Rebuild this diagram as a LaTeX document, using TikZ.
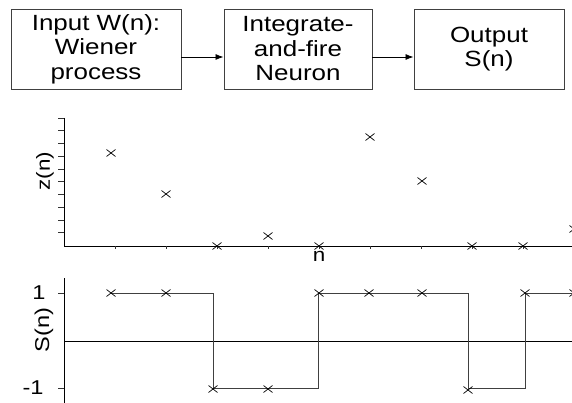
\documentclass[tikz,border=0pt]{standalone}
\usepackage{fontspec}
\setmainfont{Liberation Sans}
\newfontfamily\wfont[FakeStretch=1.18]{Liberation Sans}
\usetikzlibrary{arrows.meta}
\begin{document}
\begin{tikzpicture}[x=1pt,y=-1pt,
  blk/.style={draw=black!75, line width=0.9pt, minimum height=80pt, align=center,
    inner sep=0pt, font=\wfont\fontsize{22}{24.5}\selectfont},
  flow/.style={-{Latex[length=8pt,width=6pt]}, line width=0.8pt},
  axisline/.style={line width=0.9pt, black},
  tickline/.style={line width=0.7pt, black!80},
  mk/.style={line width=0.7pt, black},
  stepline/.style={line width=0.9pt, black!75},
  lbl/.style={inner sep=0pt, font=\wfont\fontsize{19}{20}\selectfont}
]
\useasboundingbox (0,0) rectangle (572,403);

% block diagram
\node[blk, minimum width=170pt] (input) at (96,49) {Input W(n):\\Wiener\\process};
\node[blk, minimum width=148pt] (neuron) at (298,49) {Integrate-\\and-fire\\Neuron};
\node[blk, minimum width=150pt] (output) at (489,49) {Output\\S(n)};
\draw[flow] ([yshift=-8pt]input.east) -- ([yshift=-8pt]neuron.west);
\draw[flow] ([yshift=-8pt]neuron.east) -- ([yshift=-8pt]output.west);

% top plot: z(n)
\draw[axisline] (64,118) -- (64,246) -- (572,246);
\foreach \k in {0,...,9}
  \draw[tickline] (58,118+\k*12.75) -- (64,118+\k*12.75);
\foreach \k in {0,...,8}
  \draw[tickline] (115+\k*51,246) -- (115+\k*51,248.5);
\node[lbl, rotate=90] (zlabel) at (45,171) {z(n)};
\node[lbl, anchor=base] (nlabel) at (319,261) {n};
\foreach \px/\py in {111/153,166/194,217/246,268/236,319/246,370/137,422/181,472/246,523/246,574/229}
  \draw[mk] (\px-4.5,\py-3.5) -- (\px+4.5,\py+3.5) (\px-4.5,\py+3.5) -- (\px+4.5,\py-3.5);

% bottom plot: S(n)
\draw[axisline] (64,278) -- (64,403);
\draw[axisline] (64,341) -- (572,341);
\draw[tickline] (58,293) -- (64,293);
\draw[tickline] (58,388) -- (64,388);
\node[lbl, font=\wfont\fontsize{20}{21}\selectfont] (one) at (39,293) {1};
\node[lbl, font=\wfont\fontsize{20}{21}\selectfont] (mone) at (33,388) {-1};
\node[lbl, font=\wfont\fontsize{20}{21}\selectfont, rotate=90] (slabel) at (44,330) {S(n)};
\draw[stepline] (111,293) -- (213,293) -- (213,388) -- (318,388) -- (318,293)
  -- (468,293) -- (468,388) -- (525,388) -- (525,293) -- (575,293);
\foreach \px/\py in {111/293,166/293,213/389,268/389,319/293,369/293,422/293,468/390,525/293,574/293}
  \draw[mk] (\px-4.5,\py-3.5) -- (\px+4.5,\py+3.5) (\px-4.5,\py+3.5) -- (\px+4.5,\py-3.5);
\end{tikzpicture}
\end{document}
